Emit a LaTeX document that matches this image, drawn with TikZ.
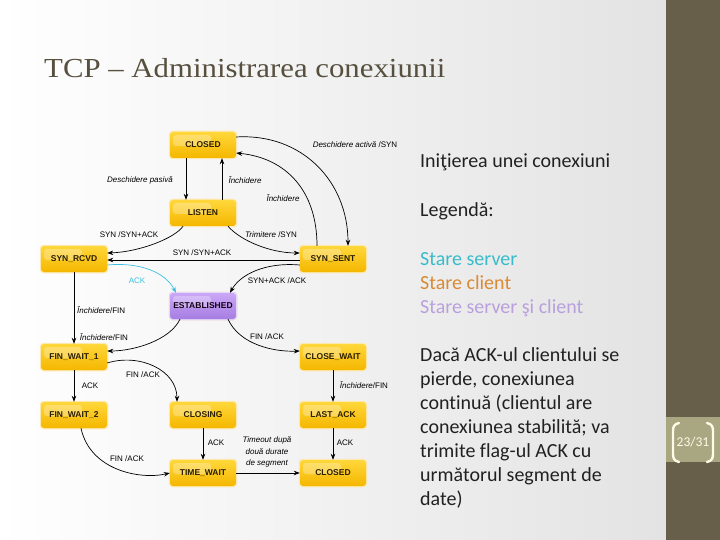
\documentclass[tikz,border=0pt]{standalone}
\usepackage{fontspec}
\setmainfont{Carlito}
\newfontfamily\diag{Liberation Sans}
\newfontfamily\titlefont[FakeStretch=1.12]{Liberation Serif}
\newfontfamily\bodyfont[Ligatures=NoCommon]{Carlito}
\usetikzlibrary{arrows.meta,calc}
\definecolor{ylT}{HTML}{FFD73A}
\definecolor{ylB}{HTML}{F5B700}
\definecolor{puT}{HTML}{CBA8F7}
\definecolor{puB}{HTML}{A67DE2}
\definecolor{stTxt}{HTML}{2A1E00}
\definecolor{titleC}{HTML}{57503F}
\definecolor{barC}{HTML}{675F49}
\definecolor{pageC}{HTML}{A9A682}
\definecolor{creamC}{HTML}{FFFBE6}
\definecolor{cyanC}{HTML}{38BCCB}
\definecolor{orangeC}{HTML}{D98A34}
\definecolor{lilacC}{HTML}{B9A0DD}
\definecolor{ackC}{HTML}{3BBFE0}
\definecolor{bgR}{HTML}{E3E3E3}
\begin{document}
\begin{tikzpicture}[x=1pt,y=-1pt,
  state/.style={rounded corners=3pt, minimum width=66pt, minimum height=26pt,
    inner sep=0pt, top color=ylT, bottom color=ylB, text=stTxt,
    preaction={draw=ylB!30, line width=2.5pt},
    font=\diag\bfseries\fontsize{8.5}{10}\selectfont,
    path picture={\fill[white,opacity=0.28,rounded corners=3pt]
      ([xshift=3pt,yshift=-3pt]path picture bounding box.north west) rectangle
      ([xshift=8pt,yshift=-1pt]path picture bounding box.center);}},
  estate/.style={state, top color=puT, bottom color=puB, text=black!85!violet,
    preaction={draw=puB!30, line width=2.5pt}},
  conn/.style={draw, line width=0.7pt, -{Stealth[length=6pt,width=4.5pt]}},
  lbl/.style={inner sep=0pt, font=\diag\fontsize{8}{9.6}\selectfont},
  ilbl/.style={lbl, font=\diag\itshape\fontsize{8}{9.6}\selectfont},
  body/.style={inner sep=0pt, anchor=base west, font=\bodyfont\fontsize{20}{24}\selectfont, text=black!87}
]
\useasboundingbox (0,0) rectangle (720,540);
% background
\shade[left color=white, right color=bgR] (0,0) rectangle (666,540);
\fill[barC] (666,0) rectangle (720,540);
\fill[pageC] (666,417) rectangle (720,462);
\draw[creamC, line width=2.4pt, line cap=round] (679,423) .. controls (674,424) and (673,427) .. (673,431) -- (673,454) .. controls (673,458) and (674,461) .. (679,462);
\draw[creamC, line width=2.4pt, line cap=round] (707,423) .. controls (712,424) and (713,427) .. (713,431) -- (713,454) .. controls (713,458) and (712,461) .. (707,462);
\node[inner sep=0pt, text=creamC, font=\bodyfont\fontsize{13.5}{15}\selectfont] (pagenum) at (693,442) {23/31};

% title
\node[inner sep=0pt, anchor=base west, text=titleC, font=\titlefont\fontsize{27.5}{32}\selectfont] (title) at (44,78) {TCP – Administrarea conexiunii};

% states
\node[state] (closedT) at (203,145) {CLOSED};
\node[state] (listen) at (203,213) {LISTEN};
\node[state] (synrcvd) at (74,259) {SYN\_RCVD};
\node[state] (synsent) at (333,259) {SYN\_SENT};
\node[estate] (estab) at (203,306) {ESTABLISHED};
\node[state] (finwait1) at (74,357) {FIN\_WAIT\_1};
\node[state] (closewait) at (333,357) {CLOSE\_WAIT};
\node[state] (finwait2) at (74,415) {FIN\_WAIT\_2};
\node[state] (closing) at (203,415) {CLOSING};
\node[state] (lastack) at (333,415) {LAST\_ACK};
\node[state] (timewait) at (203,473) {TIME\_WAIT};
\node[state] (closedB) at (333,473) {CLOSED};

% connectors
\draw[conn] ($(closedT.east)+(0,-8)$) .. controls +(65,-4) and +(0,-65) .. ($(synsent.north)+(15,0)$);
\draw[conn] ($(synsent.north)+(-16,0)$) .. controls +(0,-55) and +(50,5) .. ($(closedT.east)+(0,8)$);
\draw[conn] ($(closedT.south)+(-17,0)$) -- ($(listen.north)+(-17,0)$);
\draw[conn] ($(listen.north)+(19,0)$) -- ($(closedT.south)+(19,0)$);
\draw[conn] ($(listen.south)+(-20,0)$) .. controls +(-8,12) and +(32,-1) .. ($(synrcvd.east)+(0,-6)$);
\draw[conn] ($(listen.south)+(25,0)$) .. controls +(12,14) and +(-30,0) .. ($(synsent.west)+(0,-6)$);
\draw[conn] ($(synsent.west)+(0,1)$) -- ($(synrcvd.east)+(0,1)$);
\draw[conn, ackC] ($(synrcvd.east)+(0,6)$) .. controls +(32,-3) and +(-11,-21) .. ($(estab.north)+(-27,0)$);
\draw[conn] ($(synsent.west)+(0,6)$) .. controls +(-35,-3) and +(10,-18) .. ($(estab.north)+(27,0)$);
\draw[conn] (synrcvd.south) -- (finwait1.north);
\draw[conn] ($(estab.south)+(-23,0)$) .. controls +(-10,21) and +(27,0) .. ($(finwait1.east)+(0,-6)$);
\draw[conn] ($(estab.south)+(25,0)$) .. controls +(12,26) and +(-25,1) .. ($(closewait.west)+(0,-6)$);
\draw[conn] ($(finwait1.east)+(0,6)$) .. controls +(32,-10) and +(0,-32) .. ($(closing.north)+(-26,0)$);
\draw[conn] (finwait1.south) -- (finwait2.north);
\draw[conn] ($(finwait2.south)+(7,0)$) .. controls +(9,42) and +(-30,7) .. (timewait.west);
\draw[conn] (closing.south) -- (timewait.north);
\draw[conn] (timewait.east) -- (closedB.west);
\draw[conn] (closewait.south) -- (lastack.north);
\draw[conn] (lastack.south) -- (closedB.north);

% labels
\node[lbl] (l1) at (355,145) {\itshape Deschidere activă\upshape{} /SYN};
\node[ilbl] (l2) at (140,180) {Deschidere pasivă};
\node[ilbl] (l3) at (245,180) {Închidere};
\node[ilbl] (l4) at (283,198) {Închidere};
\node[lbl] (l5) at (129,235) {SYN /SYN+ACK};
\node[lbl] (l6) at (271,235) {\itshape Trimitere\upshape{} /SYN};
\node[lbl] (l7) at (202,253) {SYN /SYN+ACK};
\node[lbl, text=ackC] (l8) at (137,281) {ACK};
\node[lbl] (l9) at (277,281) {SYN+ACK /ACK};
\node[lbl, anchor=west] (l10) at (77,310) {\itshape Închidere\upshape/FIN};
\node[lbl] (l11) at (104,337) {\itshape Închidere\upshape/FIN};
\node[lbl] (l12) at (267,337) {FIN /ACK};
\node[lbl] (l13) at (143,375) {FIN /ACK};
\node[lbl] (l14) at (90,386) {ACK};
\node[lbl] (l15) at (364,385) {\itshape Închidere\upshape/FIN};
\node[lbl] (l16) at (216,443) {ACK};
\node[lbl] (l17) at (127,459) {FIN /ACK};
\node[ilbl, align=center, font=\diag\itshape\fontsize{8}{11.5}\selectfont] (l18) at (267,452) {Timeout după\\două durate\\de segment};
\node[lbl] (l19) at (345,443) {ACK};

% right text
\node[body] (t1) at (420,168) {Iniţierea unei conexiuni};
\node[body] (t2) at (420,217) {Legendă:};
\node[body, text=cyanC] (t3) at (420,265) {Stare server};
\node[body, text=orangeC] (t4) at (420,289) {Stare client};
\node[body, text=lilacC] (t5) at (420,313) {Stare server şi client};
\node[body] (t6) at (420,361) {Dacă ACK-ul clientului se};
\node[body] (t7) at (420,385) {pierde, conexiunea};
\node[body] (t8) at (420,409) {continuă (clientul are};
\node[body] (t9) at (420,433) {conexiunea stabilită; va};
\node[body] (t10) at (420,457) {trimite flag-ul ACK cu};
\node[body] (t11) at (420,481) {următorul segment de};
\node[body] (t12) at (420,505) {date)};
\end{tikzpicture}
\end{document}
